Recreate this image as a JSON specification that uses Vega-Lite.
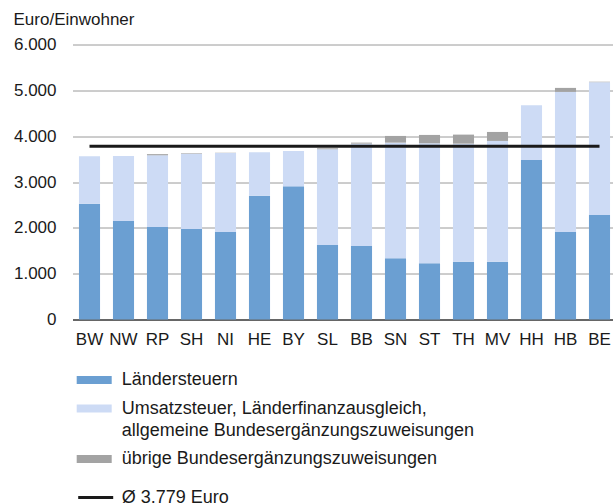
{
  "$schema": "https://vega.github.io/schema/vega-lite/v6.json",
  "autosize": {"type": "none"},
  "padding": {"left": 72.5, "top": 44.5, "right": 0, "bottom": 183.5},
  "width": 544,
  "height": 275,
  "background": "white",
  "config": {
    "font": "Liberation Sans",
    "view": {"stroke": null},
    "axis": {"labelFont": "Liberation Sans", "titleFont": "Liberation Sans", "labelColor": "#1a1a1a", "titleColor": "#1a1a1a"},
    "legend": {"labelFont": "Liberation Sans", "labelColor": "#1a1a1a"}
  },
  "data": {
    "values": [
      {"land": "BW", "k": "Ländersteuern", "v": 2526},
      {"land": "BW", "k": "Umsatzsteuer, Länderfinanzausgleich, allgemeine Bundesergänzungszuweisungen", "v": 1035},
      {"land": "BW", "k": "übrige Bundesergänzungszuweisungen", "v": 0},
      {"land": "NW", "k": "Ländersteuern", "v": 2148},
      {"land": "NW", "k": "Umsatzsteuer, Länderfinanzausgleich, allgemeine Bundesergänzungszuweisungen", "v": 1420},
      {"land": "NW", "k": "übrige Bundesergänzungszuweisungen", "v": 0},
      {"land": "RP", "k": "Ländersteuern", "v": 2017},
      {"land": "RP", "k": "Umsatzsteuer, Länderfinanzausgleich, allgemeine Bundesergänzungszuweisungen", "v": 1566},
      {"land": "RP", "k": "übrige Bundesergänzungszuweisungen", "v": 25},
      {"land": "SH", "k": "Ländersteuern", "v": 1973},
      {"land": "SH", "k": "Umsatzsteuer, Länderfinanzausgleich, allgemeine Bundesergänzungszuweisungen", "v": 1642},
      {"land": "SH", "k": "übrige Bundesergänzungszuweisungen", "v": 12},
      {"land": "NI", "k": "Ländersteuern", "v": 1907},
      {"land": "NI", "k": "Umsatzsteuer, Länderfinanzausgleich, allgemeine Bundesergänzungszuweisungen", "v": 1726},
      {"land": "NI", "k": "übrige Bundesergänzungszuweisungen", "v": 5},
      {"land": "HE", "k": "Ländersteuern", "v": 2701},
      {"land": "HE", "k": "Umsatzsteuer, Länderfinanzausgleich, allgemeine Bundesergänzungszuweisungen", "v": 947},
      {"land": "HE", "k": "übrige Bundesergänzungszuweisungen", "v": 0},
      {"land": "BY", "k": "Ländersteuern", "v": 2905},
      {"land": "BY", "k": "Umsatzsteuer, Länderfinanzausgleich, allgemeine Bundesergänzungszuweisungen", "v": 772},
      {"land": "BY", "k": "übrige Bundesergänzungszuweisungen", "v": 0},
      {"land": "SL", "k": "Ländersteuern", "v": 1623},
      {"land": "SL", "k": "Umsatzsteuer, Länderfinanzausgleich, allgemeine Bundesergänzungszuweisungen", "v": 2091},
      {"land": "SL", "k": "übrige Bundesergänzungszuweisungen", "v": 22},
      {"land": "BB", "k": "Ländersteuern", "v": 1601},
      {"land": "BB", "k": "Umsatzsteuer, Länderfinanzausgleich, allgemeine Bundesergänzungszuweisungen", "v": 2236},
      {"land": "BB", "k": "übrige Bundesergänzungszuweisungen", "v": 22},
      {"land": "SN", "k": "Ländersteuern", "v": 1339},
      {"land": "SN", "k": "Umsatzsteuer, Länderfinanzausgleich, allgemeine Bundesergänzungszuweisungen", "v": 2520},
      {"land": "SN", "k": "übrige Bundesergänzungszuweisungen", "v": 146},
      {"land": "ST", "k": "Ländersteuern", "v": 1230},
      {"land": "ST", "k": "Umsatzsteuer, Länderfinanzausgleich, allgemeine Bundesergänzungszuweisungen", "v": 2615},
      {"land": "ST", "k": "übrige Bundesergänzungszuweisungen", "v": 182},
      {"land": "TH", "k": "Ländersteuern", "v": 1259},
      {"land": "TH", "k": "Umsatzsteuer, Länderfinanzausgleich, allgemeine Bundesergänzungszuweisungen", "v": 2578},
      {"land": "TH", "k": "übrige Bundesergänzungszuweisungen", "v": 197},
      {"land": "MV", "k": "Ländersteuern", "v": 1259},
      {"land": "MV", "k": "Umsatzsteuer, Länderfinanzausgleich, allgemeine Bundesergänzungszuweisungen", "v": 2637},
      {"land": "MV", "k": "übrige Bundesergänzungszuweisungen", "v": 196},
      {"land": "HH", "k": "Ländersteuern", "v": 3481},
      {"land": "HH", "k": "Umsatzsteuer, Länderfinanzausgleich, allgemeine Bundesergänzungszuweisungen", "v": 1194},
      {"land": "HH", "k": "übrige Bundesergänzungszuweisungen", "v": 0},
      {"land": "HB", "k": "Ländersteuern", "v": 1907},
      {"land": "HB", "k": "Umsatzsteuer, Länderfinanzausgleich, allgemeine Bundesergänzungszuweisungen", "v": 3059},
      {"land": "HB", "k": "übrige Bundesergänzungszuweisungen", "v": 87},
      {"land": "BE", "k": "Ländersteuern", "v": 2279},
      {"land": "BE", "k": "Umsatzsteuer, Länderfinanzausgleich, allgemeine Bundesergänzungszuweisungen", "v": 2899},
      {"land": "BE", "k": "übrige Bundesergänzungszuweisungen", "v": 10}
    ]
  },
  "layer": [
    {
      "transform": [
        {"calculate": "indexof(['Ländersteuern', 'Umsatzsteuer, Länderfinanzausgleich, allgemeine Bundesergänzungszuweisungen', 'übrige Bundesergänzungszuweisungen'], datum.k)", "as": "ord"}
      ],
      "mark": {"type": "bar"},
      "encoding": {
        "x": {
          "field": "land", "type": "nominal", "sort": null,
          "scale": {"paddingInner": 0.38, "paddingOuter": 0.19},
          "axis": {"title": null, "labelAngle": 0, "labelFontSize": 17, "labelPadding": 11.5, "ticks": false, "domainColor": "#444444", "domainWidth": 1.5, "grid": false}
        },
        "y": {
          "field": "v", "type": "quantitative", "stack": "zero",
          "scale": {"domain": [0, 6000]},
          "axis": {
            "values": [0, 1000, 2000, 3000, 4000, 5000, 6000],
            "labelExpr": "replace(format(datum.value, ','), ',', '.')",
            "labelFontSize": 17, "labelPadding": 16.5, "ticks": false, "domain": false,
            "gridColor": "#9a9a9a", "gridWidth": 1,
            "title": "Euro/Einwohner", "titleAngle": 0, "titleAlign": "left", "titleBaseline": "alphabetic",
            "titleX": -59.5, "titleY": -20.5, "titleFontSize": 17, "titleFontWeight": "normal"
          }
        },
        "color": {
          "field": "k", "type": "nominal",
          "scale": {
            "domain": ["Ländersteuern", "Umsatzsteuer, Länderfinanzausgleich, allgemeine Bundesergänzungszuweisungen", "übrige Bundesergänzungszuweisungen"],
            "range": ["#6b9fd2", "#cddbf5", "#a3a3a3"]
          },
          "legend": {
            "title": null, "orient": "none", "legendX": 4.2, "legendY": 318, "direction": "vertical",
            "symbolType": "M-1,-0.229H1V0.229H-1Z", "symbolSize": 1225, "symbolStrokeWidth": 0,
            "labelFontSize": 18, "labelOffset": 10, "labelLimit": 500, "rowPadding": 1.5,
            "labelExpr": "datum.label == 'Umsatzsteuer, Länderfinanzausgleich, allgemeine Bundesergänzungszuweisungen' ? ['Umsatzsteuer, Länderfinanzausgleich,', 'allgemeine Bundesergänzungszuweisungen'] : datum.label",
            "encode": {"labels": {"update": {"lineHeight": {"value": 22}}}}
          }
        },
        "order": {"field": "ord", "type": "quantitative"}
      }
    },
    {
      "transform": [{"filter": "datum.k == 'Ländersteuern'"}],
      "mark": {"type": "line", "strokeWidth": 3},
      "encoding": {
        "x": {"field": "land", "type": "nominal", "sort": null},
        "y": {"datum": 3779},
        "stroke": {
          "datum": "Ø 3.779 Euro",
          "scale": {"range": ["#1a1a1a"]},
          "legend": {
            "title": null, "orient": "none", "legendX": 4.2, "legendY": 434,
            "symbolType": "stroke", "symbolSize": 1225, "symbolStrokeWidth": 3,
            "labelFontSize": 18, "labelOffset": 7
          }
        }
      }
    }
  ]
}
